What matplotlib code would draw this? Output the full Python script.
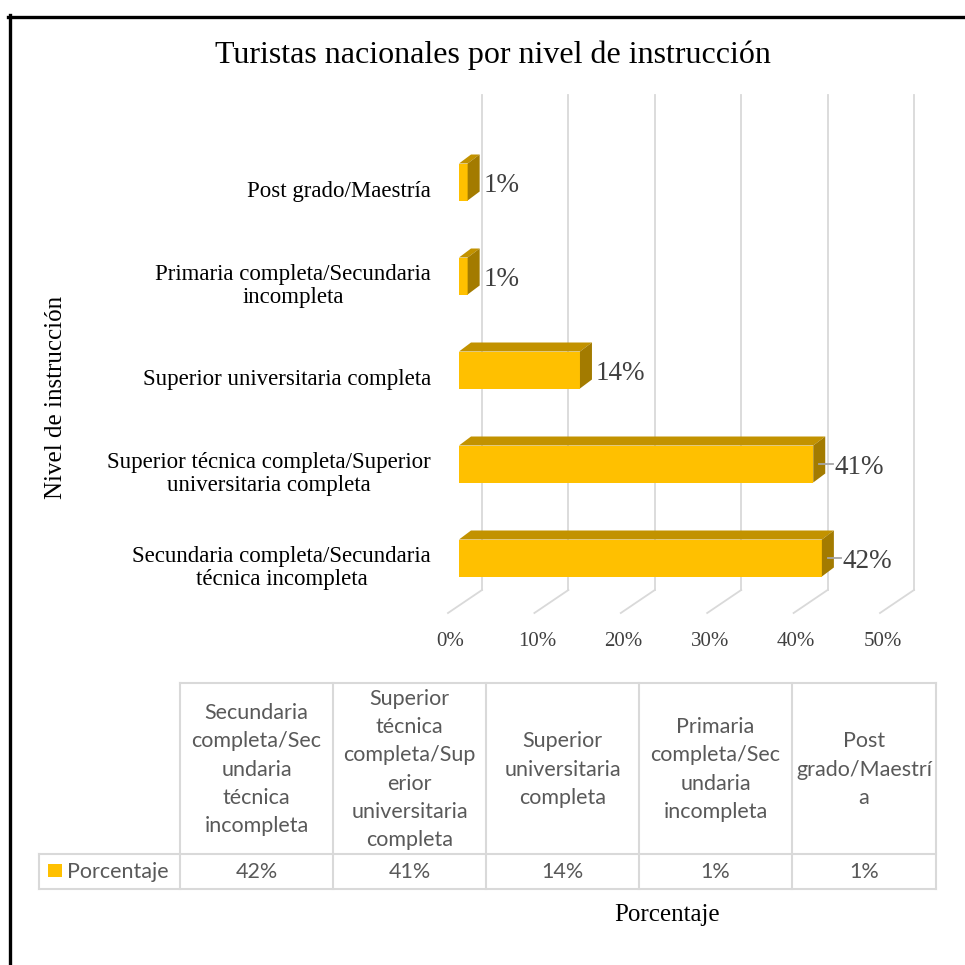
import matplotlib
matplotlib.use("Agg")
import matplotlib.pyplot as plt
from matplotlib.patches import Rectangle, Polygon
from matplotlib.lines import Line2D

# data (bottom to top in the chart)
categories = [
    "Secundaria completa/Secundaria\ntécnica incompleta",
    "Superior técnica completa/Superior\nuniversitaria completa",
    "Superior universitaria completa",
    "Primaria completa/Secundaria\nincompleta",
    "Post grado/Maestría",
]
values = [42, 41, 14, 1, 1]
ticks = [0, 10, 20, 30, 40, 50]
tick_labels = ["0%", "10%", "20%", "30%", "40%", "50%"]
table_headers = [
    "Secundaria\ncompleta/Sec\nundaria\ntécnica\nincompleta",
    "Superior\ntécnica\ncompleta/Sup\nerior\nuniversitaria\ncompleta",
    "Superior\nuniversitaria\ncompleta",
    "Primaria\ncompleta/Sec\nundaria\nincompleta",
    "Post\ngrado/Maestrí\na",
]
series_name = "Porcentaje"

W = H = 965
PX_PER_PCT = 8.64
PX_PER_CAT = 94.0
X0, Y0 = 459, 558  # pixel of 0% and first category centre

serif = "Liberation Serif"
sans = "Lato"
front_col = "#FFC000"
top_col = "#C29200"
side_col = "#A37B00"
grid_col = "#D9D9D9"
text_grey = "#404040"
table_grey = "#595959"

fig = plt.figure(figsize=(W / 100, H / 100), dpi=100)
ax = fig.add_axes([0, 0, 1, 1])
ax.set_xlim(-X0 / PX_PER_PCT, (W - X0) / PX_PER_PCT)
ax.set_ylim((Y0 - H) / PX_PER_CAT, Y0 / PX_PER_CAT)
ax.axis("off")

# depth offsets in data units
bar_dx, bar_dy = 12 / PX_PER_PCT, 9 / PX_PER_CAT
wall_dx = 23 / PX_PER_PCT
wall_bot, wall_top = (Y0 - 590) / PX_PER_CAT, (Y0 - 95) / PX_PER_CAT
floor_dx, floor_y = -11 / PX_PER_PCT, (Y0 - 613) / PX_PER_CAT
half = 18.5 / PX_PER_CAT

# back wall grid + floor lines
for t in ticks:
    ax.plot([t + wall_dx, t + wall_dx], [wall_bot, wall_top], color=grid_col, lw=1.3, zorder=1)
    ax.plot([t + wall_dx, t + floor_dx], [wall_bot, floor_y], color=grid_col, lw=1.3, zorder=1)
for t, lab in zip(ticks, tick_labels):
    ax.text(t + floor_dx + 0.3, (Y0 - 641) / PX_PER_CAT, lab, ha="center", va="center",
            fontsize=15, family=serif, color=text_grey)

# 3D bars
for i, v in enumerate(values):
    ax.add_patch(Rectangle((0, i - half), v, 2 * half, facecolor=front_col, edgecolor="none", zorder=3))
    ax.add_patch(Polygon([(0, i + half), (v, i + half), (v + bar_dx, i + half + bar_dy),
                          (bar_dx, i + half + bar_dy)], closed=True, facecolor=top_col,
                         edgecolor="none", zorder=3))
    ax.add_patch(Polygon([(v, i - half), (v, i + half), (v + bar_dx, i + half + bar_dy),
                          (v + bar_dx, i - half + bar_dy)], closed=True, facecolor=side_col,
                         edgecolor="none", zorder=3))
    lx = v + bar_dx + 4 / PX_PER_PCT
    if v >= 30:
        lx = v + bar_dx + 9 / PX_PER_PCT
        ax.plot([v + bar_dx * 0.5, lx - 0.2], [i, i], color="#A6A6A6", lw=1.3, zorder=4)
    ax.text(lx, i - 3 / PX_PER_CAT, f"{v}%", ha="left", va="center", fontsize=19.5,
            family=serif, color=text_grey, zorder=5)
    ax.text(-28 / PX_PER_PCT, i - 10 / PX_PER_CAT, categories[i], ha="right", va="center",
            multialignment="center", fontsize=16.5, family=serif, color="black", linespacing=1.08)

fig.text(0.5 * (213 + 772) / W, 1 - 55 / H, "Turistas nacionales por nivel de instrucción",
         ha="center", va="center", fontsize=23, family=serif, color="black")
fig.text(56 / W, 1 - 397 / H, "Nivel de instrucción", ha="center", va="center", rotation=90,
         fontsize=18, family=serif, color="black")
fig.text(667 / W, 1 - 915 / H, series_name, ha="center", va="center", fontsize=18,
         family=serif, color="black")


def fx(px):
    return px / W


def fy(py):
    return 1 - py / H


def hline(x1, x2, y):
    fig.add_artist(Line2D([fx(x1), fx(x2)], [fy(y), fy(y)], color=grid_col, lw=1.5))


def vline(x, y1, y2):
    fig.add_artist(Line2D([fx(x), fx(x)], [fy(y1), fy(y2)], color=grid_col, lw=1.5))


# data table
col_edges = [180, 333, 486, 639, 792, 936]
row_top, row_mid, row_bot = 683, 854, 889
left_edge = 39
hline(col_edges[0], col_edges[-1], row_top)
hline(left_edge, col_edges[-1], row_mid)
hline(left_edge, col_edges[-1], row_bot)
vline(left_edge, row_mid, row_bot)
for x in col_edges:
    vline(x, row_top, row_bot)
for j, (hdr, v) in enumerate(zip(table_headers, values)):
    cx = 0.5 * (col_edges[j] + col_edges[j + 1])
    fig.text(fx(cx), fy(0.5 * (row_top + row_mid) + 1), hdr, ha="center", va="center",
             fontsize=15.5, family=sans, color=table_grey, linespacing=1.52)
    fig.text(fx(cx), fy(0.5 * (row_mid + row_bot)), f"{v}%", ha="center", va="center",
             fontsize=15.5, family=sans, color=table_grey)
fig.add_artist(Rectangle((fx(48), fy(877)), fx(14), 13 / H, facecolor=front_col, edgecolor="none"))
fig.text(fx(67), fy(0.5 * (row_mid + row_bot)), series_name, ha="left", va="center",
         fontsize=15.5, family=sans, color=table_grey)

# black frame
fig.add_artist(Line2D([fx(9.5), fx(9.5)], [fy(15), fy(H)], color="black", lw=2.4))
fig.add_artist(Line2D([fx(8), fx(W)], [fy(16.5), fy(16.5)], color="black", lw=2.4))

fig.savefig("out.png", dpi=100)
